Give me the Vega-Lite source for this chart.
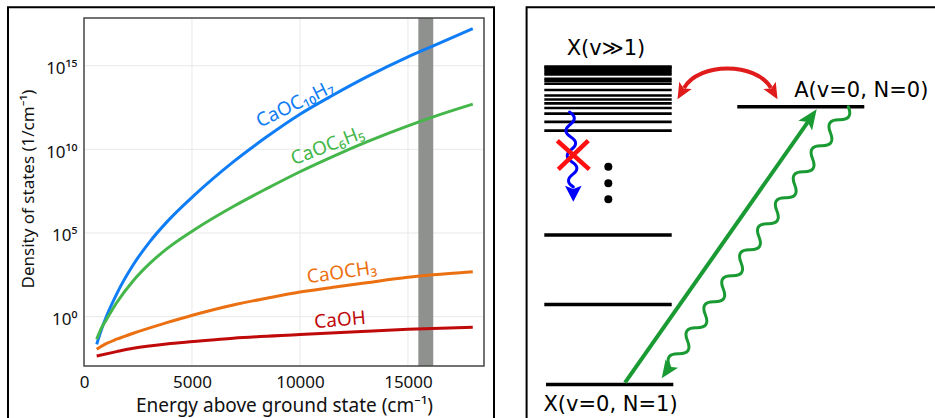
{
  "$schema": "https://vega.github.io/schema/vega-lite/v6.json",
  "width": 935,
  "height": 418,
  "padding": 0,
  "autosize": {"type": "none"},
  "background": "white",
  "config": {"view": {"stroke": null}, "font": "Noto Sans"},
  "layer": [
    {
      "data": {"values": [{"e0": -3519, "e1": 18983, "d0": 1e-8, "d1": 3.1e18}]},
      "mark": {"type": "rect", "filled": false, "color": "#000000", "strokeWidth": 2},
      "encoding": {
        "x": {"field": "e0", "type": "quantitative", "scale": {"type": "linear", "domain": [0, 18520], "range": [84, 484], "nice": false, "zero": false}, "axis": null},
        "x2": {"field": "e1"},
        "y": {"field": "d0", "type": "quantitative", "scale": {"type": "log", "domain": [0.001122, 7.08e17], "range": [366, 18], "nice": false}, "axis": null},
        "y2": {"field": "d1"}
      }
    },
    {
      "data": {"values": [{"e": 5000}, {"e": 10000}, {"e": 15000}]},
      "mark": {"type": "rule", "color": "#e8e8e8", "strokeWidth": 1},
      "encoding": {
        "x": {"field": "e", "type": "quantitative", "scale": {"type": "linear", "domain": [0, 18520], "range": [84, 484], "nice": false, "zero": false}, "axis": null},
        "y": {"datum": 0.001122, "type": "quantitative", "scale": {"type": "log", "domain": [0.001122, 7.08e17], "range": [366, 18], "nice": false}, "axis": null},
        "y2": {"datum": 7.08e17}
      }
    },
    {
      "data": {"values": [{"d": 1}, {"d": 100000}, {"d": 10000000000}, {"d": 1000000000000000}]},
      "mark": {"type": "rule", "color": "#e8e8e8", "strokeWidth": 1},
      "encoding": {
        "y": {"field": "d", "type": "quantitative", "scale": {"type": "log", "domain": [0.001122, 7.08e17], "range": [366, 18], "nice": false}, "axis": null},
        "x": {"datum": 0, "type": "quantitative", "scale": {"type": "linear", "domain": [0, 18520], "range": [84, 484], "nice": false, "zero": false}, "axis": null},
        "x2": {"datum": 18520}
      }
    },
    {
      "data": {"values": [{"e0": 15480, "e1": 16170}]},
      "mark": {"type": "rect", "color": "#8f918f", "opacity": 1},
      "encoding": {
        "x": {"field": "e0", "type": "quantitative", "scale": {"type": "linear", "domain": [0, 18520], "range": [84, 484], "nice": false, "zero": false}, "axis": null},
        "x2": {"field": "e1"},
        "y": {"datum": 0.001122, "type": "quantitative", "scale": {"type": "log", "domain": [0.001122, 7.08e17], "range": [366, 18], "nice": false}, "axis": null},
        "y2": {"datum": 7.08e17}
      }
    },
    {
      "data": {"values": [
        {"s": "CaOC10H7", "E": 587, "D": 0.02188},
        {"s": "CaOC10H7", "E": 800, "D": 0.1585},
        {"s": "CaOC10H7", "E": 1050, "D": 1.122},
        {"s": "CaOC10H7", "E": 1510, "D": 22.39},
        {"s": "CaOC10H7", "E": 2280, "D": 1259},
        {"s": "CaOC10H7", "E": 3060, "D": 31620},
        {"s": "CaOC10H7", "E": 3830, "D": 446700},
        {"s": "CaOC10H7", "E": 5060, "D": 1.585e7},
        {"s": "CaOC10H7", "E": 6910, "D": 1.778e9},
        {"s": "CaOC10H7", "E": 8460, "D": 5.623e10},
        {"s": "CaOC10H7", "E": 10000, "D": 1.259e12},
        {"s": "CaOC10H7", "E": 11540, "D": 1.778e13},
        {"s": "CaOC10H7", "E": 13090, "D": 2.138e14},
        {"s": "CaOC10H7", "E": 15000, "D": 3.388e15},
        {"s": "CaOC10H7", "E": 16170, "D": 1.549e16},
        {"s": "CaOC10H7", "E": 18000, "D": 1.66e17},
        {"s": "CaOC6H5", "E": 587, "D": 0.04467},
        {"s": "CaOC6H5", "E": 800, "D": 0.1995},
        {"s": "CaOC6H5", "E": 1050, "D": 0.7079},
        {"s": "CaOC6H5", "E": 1510, "D": 6.761},
        {"s": "CaOC6H5", "E": 2280, "D": 141.3},
        {"s": "CaOC6H5", "E": 3060, "D": 1585},
        {"s": "CaOC6H5", "E": 3830, "D": 11220},
        {"s": "CaOC6H5", "E": 5060, "D": 141300},
        {"s": "CaOC6H5", "E": 6910, "D": 3.802e6},
        {"s": "CaOC6H5", "E": 8460, "D": 4.467e7},
        {"s": "CaOC6H5", "E": 10000, "D": 4.571e8},
        {"s": "CaOC6H5", "E": 11540, "D": 3.802e9},
        {"s": "CaOC6H5", "E": 13090, "D": 2.754e10},
        {"s": "CaOC6H5", "E": 15000, "D": 2.512e11},
        {"s": "CaOC6H5", "E": 16170, "D": 8.71e11},
        {"s": "CaOC6H5", "E": 18000, "D": 5.012e12},
        {"s": "CaOCH3", "E": 587, "D": 0.01122},
        {"s": "CaOCH3", "E": 1050, "D": 0.02512},
        {"s": "CaOCH3", "E": 1510, "D": 0.04467},
        {"s": "CaOCH3", "E": 2280, "D": 0.1023},
        {"s": "CaOCH3", "E": 3830, "D": 0.4365},
        {"s": "CaOCH3", "E": 5060, "D": 1.259},
        {"s": "CaOCH3", "E": 6910, "D": 5.012},
        {"s": "CaOCH3", "E": 8460, "D": 12.59},
        {"s": "CaOCH3", "E": 10000, "D": 29.51},
        {"s": "CaOCH3", "E": 11540, "D": 57.54},
        {"s": "CaOCH3", "E": 13090, "D": 107.2},
        {"s": "CaOCH3", "E": 15000, "D": 223.9},
        {"s": "CaOCH3", "E": 16170, "D": 316.2},
        {"s": "CaOCH3", "E": 18000, "D": 489.8},
        {"s": "CaOH", "E": 587, "D": 0.004467},
        {"s": "CaOH", "E": 1510, "D": 0.008128},
        {"s": "CaOH", "E": 2280, "D": 0.01288},
        {"s": "CaOH", "E": 3830, "D": 0.02344},
        {"s": "CaOH", "E": 5060, "D": 0.03236},
        {"s": "CaOH", "E": 6910, "D": 0.05129},
        {"s": "CaOH", "E": 10000, "D": 0.08511},
        {"s": "CaOH", "E": 13090, "D": 0.1349},
        {"s": "CaOH", "E": 15000, "D": 0.1738},
        {"s": "CaOH", "E": 18000, "D": 0.2344}
      ]},
      "mark": {"type": "line", "strokeWidth": 3, "interpolate": "monotone"},
      "encoding": {
        "x": {
          "field": "E", "type": "quantitative",
          "scale": {"type": "linear", "domain": [0, 18520], "range": [84, 484], "nice": false, "zero": false},
          "axis": {
            "orient": "bottom", "offset": -52, "values": [0, 5000, 10000, 15000], "format": "d",
            "domain": false, "ticks": false, "grid": false, "labelFlush": false,
            "labelFont": "Noto Sans", "labelFontSize": 17, "labelColor": "#111111", "labelPadding": 8,
            "title": "Energy above ground state  (cm⁻¹)", "titleFont": "Noto Sans", "titleFontSize": 19,
            "titleFontWeight": "normal", "titleColor": "#111111", "titleY": 30.5, "titleBaseline": "top"
          }
        },
        "y": {
          "field": "D", "type": "quantitative",
          "scale": {"type": "log", "domain": [0.001122, 7.08e17], "range": [366, 18], "nice": false},
          "axis": {
            "orient": "left", "offset": -84, "values": [1, 100000, 10000000000, 1000000000000000],
            "labelExpr": "datum.value < 10 ? '10⁰' : datum.value < 1000000 ? '10⁵' : datum.value < 100000000000 ? '10¹⁰' : '10¹⁵'",
            "domain": false, "ticks": false, "grid": false, "labelFlush": false, "labelOverlap": false,
            "labelFont": "Noto Sans", "labelFontSize": 17, "labelColor": "#111111", "labelPadding": 7,
            "labelBaseline": "alphabetic", "labelOffset": 8,
            "title": "Density of states (1/cm⁻¹)", "titleFont": "Noto Sans", "titleFontSize": 17,
            "titleFontWeight": "normal", "titleColor": "#111111", "titleX": -50.5, "titleY": 188.5,
            "titleBaseline": "alphabetic", "titleAngle": 270, "titleAlign": "center"
          }
        },
        "color": {
          "field": "s", "type": "nominal",
          "scale": {"domain": ["CaOC10H7", "CaOC6H5", "CaOCH3", "CaOH"], "range": ["#0f7df5", "#45b74a", "#eb7011", "#c00a0a"]},
          "legend": null
        }
      }
    },
    {
      "data": {"values": [{"e0": 0, "e1": 18520, "d0": 0.001122, "d1": 7.08e17}]},
      "mark": {"type": "rect", "filled": false, "color": "#444444", "strokeWidth": 1.5},
      "encoding": {
        "x": {"field": "e0", "type": "quantitative", "scale": {"type": "linear", "domain": [0, 18520], "range": [84, 484], "nice": false, "zero": false}, "axis": null},
        "x2": {"field": "e1"},
        "y": {"field": "d0", "type": "quantitative", "scale": {"type": "log", "domain": [0.001122, 7.08e17], "range": [366, 18], "nice": false}, "axis": null},
        "y2": {"field": "d1"}
      }
    },
    {
      "data": {"values": [{"t": "CaOC₁₀H₇", "E": 9770, "D": 5.13e12}]},
      "mark": {"type": "text", "font": "Noto Sans", "fontSize": 19, "angle": 334, "color": "#0f7df5", "align": "center", "baseline": "middle"},
      "encoding": {
        "text": {"field": "t"},
        "x": {"field": "E", "type": "quantitative", "scale": {"type": "linear", "domain": [0, 18520], "range": [84, 484], "nice": false, "zero": false}, "axis": null},
        "y": {"field": "D", "type": "quantitative", "scale": {"type": "log", "domain": [0.001122, 7.08e17], "range": [366, 18], "nice": false}, "axis": null}
      }
    },
    {
      "data": {"values": [{"t": "CaOC₆H₅", "E": 11274, "D": 1.62e10}]},
      "mark": {"type": "text", "font": "Noto Sans", "fontSize": 19, "angle": 339, "color": "#45b74a", "align": "center", "baseline": "middle"},
      "encoding": {
        "text": {"field": "t"},
        "x": {"field": "E", "type": "quantitative", "scale": {"type": "linear", "domain": [0, 18520], "range": [84, 484], "nice": false, "zero": false}, "axis": null},
        "y": {"field": "D", "type": "quantitative", "scale": {"type": "log", "domain": [0.001122, 7.08e17], "range": [366, 18], "nice": false}, "axis": null}
      }
    },
    {
      "data": {"values": [{"t": "CaOCH₃", "E": 11932, "D": 436.5}]},
      "mark": {"type": "text", "font": "Noto Sans", "fontSize": 19, "angle": 352, "color": "#eb7011", "align": "center", "baseline": "middle"},
      "encoding": {
        "text": {"field": "t"},
        "x": {"field": "E", "type": "quantitative", "scale": {"type": "linear", "domain": [0, 18520], "range": [84, 484], "nice": false, "zero": false}, "axis": null},
        "y": {"field": "D", "type": "quantitative", "scale": {"type": "log", "domain": [0.001122, 7.08e17], "range": [366, 18], "nice": false}, "axis": null}
      }
    },
    {
      "data": {"values": [{"t": "CaOH", "E": 11853, "D": 0.631}]},
      "mark": {"type": "text", "font": "Noto Sans", "fontSize": 19, "angle": 355, "color": "#c00a0a", "align": "center", "baseline": "middle"},
      "encoding": {
        "text": {"field": "t"},
        "x": {"field": "E", "type": "quantitative", "scale": {"type": "linear", "domain": [0, 18520], "range": [84, 484], "nice": false, "zero": false}, "axis": null},
        "y": {"field": "D", "type": "quantitative", "scale": {"type": "log", "domain": [0.001122, 7.08e17], "range": [366, 18], "nice": false}, "axis": null}
      }
    },
    {
      "data": {"values": [{"u0": -0.1, "u1": 105, "E0": -20, "E1": 135.83}]},
      "mark": {"type": "rect", "filled": false, "color": "#000000", "strokeWidth": 2},
      "encoding": {
        "x": {"field": "u0", "type": "quantitative", "scale": {"type": "linear", "domain": [0, 100], "range": [527, 935], "nice": false, "zero": false}, "axis": null},
        "x2": {"field": "u1"},
        "y": {"field": "E0", "type": "quantitative", "scale": {"type": "linear", "domain": [0, 100], "range": [384.5, 106.8], "nice": false, "zero": false}, "axis": null},
        "y2": {"field": "E1"}
      }
    },
    {
      "data": {"values": [
        {"u0": 4.66, "u1": 35.86, "E": 0},
        {"u0": 4.24, "u1": 35.47, "E": 28.81},
        {"u0": 4.24, "u1": 35.47, "E": 53.84},
        {"u0": 51.54, "u1": 82.67, "E": 100}
      ]},
      "mark": {"type": "rule", "color": "#000000", "strokeWidth": 3.5, "strokeCap": "butt"},
      "encoding": {
        "x": {"field": "u0", "type": "quantitative", "scale": {"type": "linear", "domain": [0, 100], "range": [527, 935], "nice": false, "zero": false}, "axis": null},
        "x2": {"field": "u1"},
        "y": {"field": "E", "type": "quantitative", "scale": {"type": "linear", "domain": [0, 100], "range": [384.5, 106.8], "nice": false, "zero": false}, "axis": null}
      }
    },
    {
      "data": {"values": [
        {"u0": 4.24, "u1": 35.47, "E": 91.39},
        {"u0": 4.24, "u1": 35.47, "E": 94.6},
        {"u0": 4.24, "u1": 35.47, "E": 97.52},
        {"u0": 4.24, "u1": 35.47, "E": 99.57},
        {"u0": 4.24, "u1": 35.47, "E": 101.26},
        {"u0": 4.24, "u1": 35.47, "E": 102.63},
        {"u0": 4.24, "u1": 35.47, "E": 104.07},
        {"u0": 4.24, "u1": 35.47, "E": 106.05},
        {"u0": 4.24, "u1": 35.47, "E": 108.3},
        {"u0": 4.24, "u1": 35.47, "E": 109.3},
        {"u0": 4.24, "u1": 35.47, "E": 110.1},
        {"u0": 4.24, "u1": 35.47, "E": 111.7},
        {"u0": 4.24, "u1": 35.47, "E": 112.5},
        {"u0": 4.24, "u1": 35.47, "E": 113.3},
        {"u0": 4.24, "u1": 35.47, "E": 114.1},
        {"u0": 4.24, "u1": 35.47, "E": 114.5}
      ]},
      "mark": {"type": "rule", "color": "#000000", "strokeWidth": 2.7, "strokeCap": "butt"},
      "encoding": {
        "x": {"field": "u0", "type": "quantitative", "scale": {"type": "linear", "domain": [0, 100], "range": [527, 935], "nice": false, "zero": false}, "axis": null},
        "x2": {"field": "u1"},
        "y": {"field": "E", "type": "quantitative", "scale": {"type": "linear", "domain": [0, 100], "range": [384.5, 106.8], "nice": false, "zero": false}, "axis": null}
      }
    },
    {
      "data": {"values": [
        {"t": "X(v≫1)", "u": 19.36, "E": 118.65},
        {"t": "A(v=0, N=0)", "u": 81.94, "E": 103.42},
        {"t": "X(v=0, N=1)", "u": 20.47, "E": -9.43}
      ]},
      "mark": {"type": "text", "font": "DejaVu Sans", "fontSize": 21, "color": "#000000", "align": "center", "baseline": "alphabetic"},
      "encoding": {
        "text": {"field": "t"},
        "x": {"field": "u", "type": "quantitative", "scale": {"type": "linear", "domain": [0, 100], "range": [527, 935], "nice": false, "zero": false}, "axis": null},
        "y": {"field": "E", "type": "quantitative", "scale": {"type": "linear", "domain": [0, 100], "range": [384.5, 106.8], "nice": false, "zero": false}, "axis": null}
      }
    },
    {
      "data": {"values": [{"u": 19.93, "E": 78.43}, {"u": 19.93, "E": 72.45}, {"u": 19.93, "E": 66.69}]},
      "mark": {"type": "point", "shape": "circle", "filled": true, "color": "#000000", "size": 64, "opacity": 1},
      "encoding": {
        "x": {"field": "u", "type": "quantitative", "scale": {"type": "linear", "domain": [0, 100], "range": [527, 935], "nice": false, "zero": false}, "axis": null},
        "y": {"field": "E", "type": "quantitative", "scale": {"type": "linear", "domain": [0, 100], "range": [384.5, 106.8], "nice": false, "zero": false}, "axis": null}
      }
    },
    {
      "data": {"values": [{"u0": 24.02, "E0": 0.65, "u1": 69.04, "E1": 94.96}]},
      "mark": {"type": "rule", "color": "#1a9a33", "strokeWidth": 4, "strokeCap": "butt"},
      "encoding": {
        "x": {"field": "u0", "type": "quantitative", "scale": {"type": "linear", "domain": [0, 100], "range": [527, 935], "nice": false, "zero": false}, "axis": null},
        "x2": {"field": "u1"},
        "y": {"field": "E0", "type": "quantitative", "scale": {"type": "linear", "domain": [0, 100], "range": [384.5, 106.8], "nice": false, "zero": false}, "axis": null},
        "y2": {"field": "E1"}
      }
    },
    {
      "data": {"values": [{"u": 78.75, "E": 100.04}]},
      "mark": {"type": "point", "filled": false, "stroke": "#1a9a33", "strokeWidth": 3, "opacity": 1, "size": 4, "strokeCap": "round",
        "shape": "M0,0Q5.42,13.3 -8.94,13.01T-17.87,26.01T-26.81,39.02T-35.74,52.02T-44.68,65.03T-53.61,78.04T-62.55,91.04T-71.48,104.05T-80.42,117.05T-89.35,130.06T-98.29,143.07T-107.22,156.07T-116.16,169.08T-125.09,182.08T-134.03,195.09T-142.96,208.1T-151.9,221.1T-160.83,234.11T-169.77,247.11T-178.7,260.12"},
      "encoding": {
        "x": {"field": "u", "type": "quantitative", "scale": {"type": "linear", "domain": [0, 100], "range": [527, 935], "nice": false, "zero": false}, "axis": null},
        "y": {"field": "E", "type": "quantitative", "scale": {"type": "linear", "domain": [0, 100], "range": [384.5, 106.8], "nice": false, "zero": false}, "axis": null}
      }
    },
    {
      "data": {"values": [{"u": 10.42, "E": 98.13}]},
      "mark": {"type": "point", "filled": false, "stroke": "#0000ff", "strokeWidth": 3, "opacity": 1, "size": 4, "strokeCap": "round",
        "shape": "M0,0Q9.3,5.8 0.63,12.48T1.27,24.97T1.9,37.45T2.53,49.94T3.17,62.42T3.8,74.9"},
      "encoding": {
        "x": {"field": "u", "type": "quantitative", "scale": {"type": "linear", "domain": [0, 100], "range": [527, 935], "nice": false, "zero": false}, "axis": null},
        "y": {"field": "E", "type": "quantitative", "scale": {"type": "linear", "domain": [0, 100], "range": [384.5, 106.8], "nice": false, "zero": false}, "axis": null}
      }
    },
    {
      "data": {"values": [{"u": 38.48, "E": 106.77}]},
      "mark": {"type": "point", "filled": false, "stroke": "#e01b1b", "strokeWidth": 4, "opacity": 1, "size": 4,
        "shape": "M0,0C15,-26 72,-26 87,0"},
      "encoding": {
        "x": {"field": "u", "type": "quantitative", "scale": {"type": "linear", "domain": [0, 100], "range": [527, 935], "nice": false, "zero": false}, "axis": null},
        "y": {"field": "E", "type": "quantitative", "scale": {"type": "linear", "domain": [0, 100], "range": [384.5, 106.8], "nice": false, "zero": false}, "axis": null}
      }
    },
    {
      "data": {"values": [
        {"u0": 7.43, "E0": 87.79, "u1": 15.27, "E1": 77.49},
        {"u0": 15.02, "E0": 87.79, "u1": 7.67, "E1": 77.49}
      ]},
      "mark": {"type": "rule", "color": "#ff1010", "strokeWidth": 4.5, "strokeCap": "butt"},
      "encoding": {
        "x": {"field": "u0", "type": "quantitative", "scale": {"type": "linear", "domain": [0, 100], "range": [527, 935], "nice": false, "zero": false}, "axis": null},
        "x2": {"field": "u1"},
        "y": {"field": "E0", "type": "quantitative", "scale": {"type": "linear", "domain": [0, 100], "range": [384.5, 106.8], "nice": false, "zero": false}, "axis": null},
        "y2": {"field": "E1"}
      }
    },
    {
      "data": {"values": [{"u": 71.0, "E": 99.1}]},
      "mark": {"type": "point", "filled": true, "color": "#1a9a33", "opacity": 1, "size": 1600, "angle": 35, "shape": "M0,0L-0.42,1L0,0.78L0.42,1Z"},
      "encoding": {
        "x": {"field": "u", "type": "quantitative", "scale": {"type": "linear", "domain": [0, 100], "range": [527, 935], "nice": false, "zero": false}, "axis": null},
        "y": {"field": "E", "type": "quantitative", "scale": {"type": "linear", "domain": [0, 100], "range": [384.5, 106.8], "nice": false, "zero": false}, "axis": null}
      }
    },
    {
      "data": {"values": [{"u": 33.01, "E": 2.23}]},
      "mark": {"type": "point", "filled": true, "color": "#1a9a33", "opacity": 1, "size": 1296, "angle": 214.5, "shape": "M0,0L-0.42,1L0,0.78L0.42,1Z"},
      "encoding": {
        "x": {"field": "u", "type": "quantitative", "scale": {"type": "linear", "domain": [0, 100], "range": [527, 935], "nice": false, "zero": false}, "axis": null},
        "y": {"field": "E", "type": "quantitative", "scale": {"type": "linear", "domain": [0, 100], "range": [384.5, 106.8], "nice": false, "zero": false}, "axis": null}
      }
    },
    {
      "data": {"values": [{"u": 11.35, "E": 65.83}]},
      "mark": {"type": "point", "filled": true, "color": "#0000ff", "opacity": 1, "size": 1024, "angle": 180, "shape": "M0,0L-0.52,1L0,0.8L0.52,1Z"},
      "encoding": {
        "x": {"field": "u", "type": "quantitative", "scale": {"type": "linear", "domain": [0, 100], "range": [527, 935], "nice": false, "zero": false}, "axis": null},
        "y": {"field": "E", "type": "quantitative", "scale": {"type": "linear", "domain": [0, 100], "range": [384.5, 106.8], "nice": false, "zero": false}, "axis": null}
      }
    },
    {
      "data": {"values": [{"u": 36.89, "E": 102.7}]},
      "mark": {"type": "point", "filled": true, "color": "#e01b1b", "opacity": 1, "size": 1024, "angle": 210, "shape": "M0,0L-0.45,1L0,0.78L0.45,1Z"},
      "encoding": {
        "x": {"field": "u", "type": "quantitative", "scale": {"type": "linear", "domain": [0, 100], "range": [527, 935], "nice": false, "zero": false}, "axis": null},
        "y": {"field": "E", "type": "quantitative", "scale": {"type": "linear", "domain": [0, 100], "range": [384.5, 106.8], "nice": false, "zero": false}, "axis": null}
      }
    },
    {
      "data": {"values": [{"u": 61.4, "E": 102.7}]},
      "mark": {"type": "point", "filled": true, "color": "#e01b1b", "opacity": 1, "size": 1024, "angle": 150, "shape": "M0,0L-0.45,1L0,0.78L0.45,1Z"},
      "encoding": {
        "x": {"field": "u", "type": "quantitative", "scale": {"type": "linear", "domain": [0, 100], "range": [527, 935], "nice": false, "zero": false}, "axis": null},
        "y": {"field": "E", "type": "quantitative", "scale": {"type": "linear", "domain": [0, 100], "range": [384.5, 106.8], "nice": false, "zero": false}, "axis": null}
      }
    }
  ],
  "resolve": {
    "scale": {"x": "independent", "y": "independent", "color": "independent"},
    "axis": {"x": "independent", "y": "independent"}
  }
}
